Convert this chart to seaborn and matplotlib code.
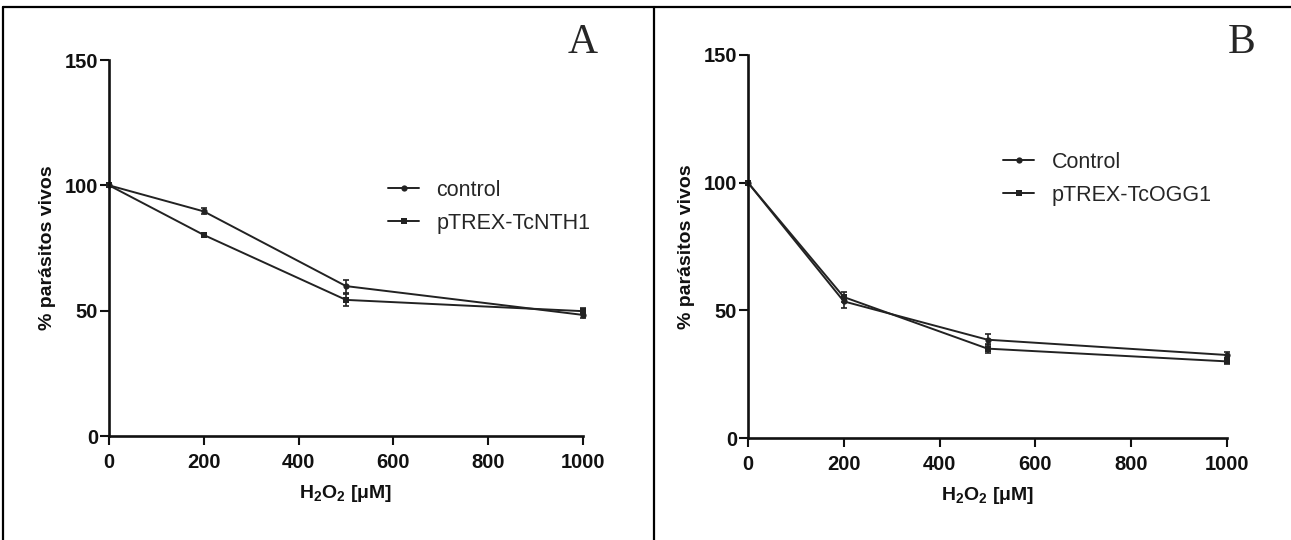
import matplotlib
matplotlib.use('Agg')
import matplotlib.pyplot as plt
import pandas as pd
import seaborn as sns
from matplotlib.lines import Line2D

# H2O2 concentrations (uM)
dose = [0, 200, 500, 1000]

# Panel A
a_labels = ['control', 'pTREX-TcNTH1']
a_control = [100, 89.6, 59.8, 48.3]
a_control_err = [0.6, 1.2, 2.6, 1.2]
a_nth1 = [100, 80.2, 54.3, 49.8]
a_nth1_err = [0.5, 0.8, 2.4, 1.3]

# Panel B
b_labels = ['Control', 'pTREX-TcOGG1']
b_control = [100, 53.5, 38.5, 32.5]
b_control_err = [0.6, 2.4, 2.2, 1.0]
b_ogg1 = [100, 55.2, 35.0, 30.0]
b_ogg1_err = [0.5, 2.0, 1.8, 1.2]

y_ticks = [0, 50, 100, 150]
x_ticks = [0, 200, 400, 600, 800, 1000]

W, H = 1291, 540

sns.set_theme(style='ticks')
plt.rcParams['font.family'] = ['Liberation Sans', 'DejaVu Sans']
plt.rcParams['mathtext.fontset'] = 'custom'
plt.rcParams['mathtext.bf'] = 'Liberation Sans:bold'
plt.rcParams['mathtext.rm'] = 'Liberation Sans'
plt.rcParams['mathtext.it'] = 'Liberation Sans:italic'

LINE = '#222222'


def fig_rect(x0, x1, y_top, y_bot):
    return [x0 / W, 1 - y_bot / H, (x1 - x0) / W, (y_bot - y_top) / H]


def draw_panel(ax, labels, series, errors, legend_xy):
    df = pd.DataFrame({
        'dose': dose * 2,
        'value': series[0] + series[1],
        'group': [labels[0]] * len(dose) + [labels[1]] * len(dose),
    })
    sns.lineplot(data=df, x='dose', y='value', hue='group', style='group',
                 markers=['o', 's'], dashes=False, palette=[LINE, LINE],
                 markersize=4.5, markeredgewidth=0, linewidth=1.4,
                 clip_on=False, ax=ax)
    for vals, err in zip(series, errors):
        ax.errorbar(dose, vals, yerr=err, fmt='none', ecolor=LINE,
                    elinewidth=1.2, capsize=2.5, capthick=1.2, clip_on=False)

    ax.set_xlim(0, 1000)
    ax.set_ylim(0, 150)
    ax.set_xticks(x_ticks)
    ax.set_yticks(y_ticks)
    sns.despine(ax=ax)
    for side in ('left', 'bottom'):
        ax.spines[side].set_linewidth(1.9)
        ax.spines[side].set_color('#111111')
    ax.tick_params(axis='both', length=6.5, width=1.5, color='#111111',
                   labelsize=14.5, labelcolor='#111111')
    ax.tick_params(axis='y', pad=1.5)
    ax.tick_params(axis='x', pad=6)
    for lab in ax.get_xticklabels() + ax.get_yticklabels():
        lab.set_fontweight('bold')
    ax.set_xlabel(r'$\mathbf{H_2O_2\ [\mu M]}$', fontsize=14, labelpad=8,
                  color='#111111')
    ax.set_ylabel('% parásitos vivos', fontsize=14, fontweight='bold',
                  labelpad=6, color='#111111')

    handles, labs = ax.get_legend_handles_labels()
    ax.legend(handles, labs, loc='upper left', frameon=False,
              bbox_to_anchor=(legend_xy[0] / W, 1 - legend_xy[1] / H),
              bbox_transform=ax.figure.transFigure, borderaxespad=0,
              borderpad=0, fontsize=15.5, handlelength=1.45,
              handletextpad=0.8, labelspacing=0.55)


fig = plt.figure(figsize=(W / 100, H / 100), dpi=100)
ax_a = fig.add_axes(fig_rect(109, 583, 60, 436))
ax_b = fig.add_axes(fig_rect(748, 1227, 55, 438))

draw_panel(ax_a, a_labels, [a_control, a_nth1], [a_control_err, a_nth1_err],
           (388, 180))
draw_panel(ax_b, b_labels, [b_control, b_ogg1], [b_control_err, b_ogg1_err],
           (1003, 152))

fig.text(583 / W, 1 - 43 / H, 'A', family='Liberation Serif', fontsize=30,
         ha='center', va='center')
fig.text(1242 / W, 1 - 43 / H, 'B', family='Liberation Serif', fontsize=30,
         ha='center', va='center')

# outer frame of the figure panel
frame = dict(color='black', linewidth=1.6, transform=fig.transFigure)
fig.add_artist(Line2D([3 / W, 1], [1 - 7 / H, 1 - 7 / H], **frame))
fig.add_artist(Line2D([3 / W, 3 / W], [1 - 7 / H, 0], **frame))
fig.add_artist(Line2D([654 / W, 654 / W], [1 - 7 / H, 0], **frame))

fig.savefig('out.png', dpi=100)
